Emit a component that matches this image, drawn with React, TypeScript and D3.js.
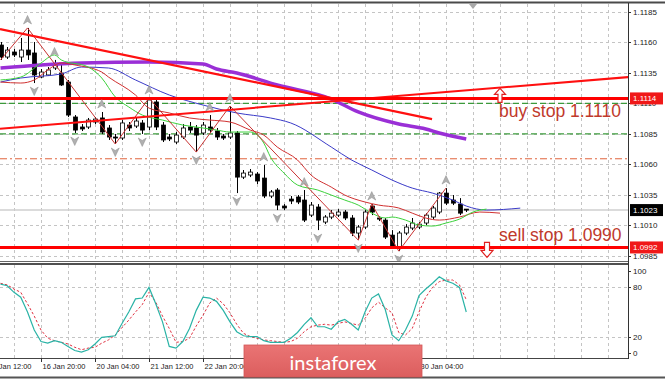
import React from 'react';
import * as d3 from 'd3';

const W = 665;
const H = 379;

// OHLC per H4 bar (open, high, low, close)
const candles: [number, number, number, number][] = [
  [1.11577, 1.11602, 1.11455, 1.11479],
  [1.11479, 1.11561, 1.11463, 1.11536],
  [1.1152, 1.11545, 1.11479, 1.11496],
  [1.11479, 1.11635, 1.11438, 1.11536],
  [1.11536, 1.11717, 1.11455, 1.11496],
  [1.11512, 1.11602, 1.11266, 1.11332],
  [1.11315, 1.11381, 1.11307, 1.11356],
  [1.11332, 1.11397, 1.11324, 1.11373],
  [1.11389, 1.11455, 1.11373, 1.11422],
  [1.11348, 1.11414, 1.11242, 1.1125],
  [1.11274, 1.11291, 1.10988, 1.11004],
  [1.10988, 1.11004, 1.10857, 1.10881],
  [1.10906, 1.1093, 1.10873, 1.1089],
  [1.10906, 1.1098, 1.1089, 1.10963],
  [1.10947, 1.10988, 1.1093, 1.10971],
  [1.1098, 1.11029, 1.10849, 1.10865],
  [1.10898, 1.10922, 1.108, 1.10824],
  [1.10824, 1.10849, 1.10767, 1.10816],
  [1.10816, 1.10963, 1.108, 1.10939],
  [1.10922, 1.10947, 1.10873, 1.10898],
  [1.10914, 1.1098, 1.10898, 1.10955],
  [1.10939, 1.10963, 1.10849, 1.10881],
  [1.10906, 1.11143, 1.10881, 1.11127],
  [1.11111, 1.11127, 1.10881, 1.10906],
  [1.10922, 1.10947, 1.10783, 1.108],
  [1.10824, 1.10849, 1.10791, 1.10808],
  [1.10783, 1.10865, 1.10767, 1.1084],
  [1.10824, 1.1093, 1.10808, 1.10898],
  [1.10906, 1.10947, 1.10857, 1.10881],
  [1.10898, 1.10922, 1.10701, 1.1084],
  [1.10857, 1.10947, 1.1084, 1.10922],
  [1.10906, 1.11004, 1.10857, 1.10881],
  [1.10873, 1.10898, 1.108, 1.10824],
  [1.10832, 1.10849, 1.108, 1.10816],
  [1.10824, 1.11078, 1.10808, 1.10857],
  [1.10857, 1.10873, 1.10365, 1.10496],
  [1.10496, 1.10554, 1.1048, 1.10529],
  [1.10513, 1.10562, 1.10496, 1.10537],
  [1.10521, 1.10537, 1.10439, 1.10464],
  [1.10488, 1.10595, 1.10324, 1.10341],
  [1.10341, 1.1039, 1.10324, 1.10374],
  [1.1039, 1.10406, 1.10226, 1.10267],
  [1.10259, 1.10275, 1.10226, 1.10243],
  [1.10316, 1.10341, 1.10275, 1.103],
  [1.10333, 1.10349, 1.10275, 1.10292],
  [1.10308, 1.1039, 1.10128, 1.10144],
  [1.10185, 1.10292, 1.10169, 1.10267],
  [1.10251, 1.10275, 1.10062, 1.10144],
  [1.10128, 1.10185, 1.10111, 1.10169],
  [1.10169, 1.10226, 1.10152, 1.10201],
  [1.10185, 1.10234, 1.10169, 1.1021],
  [1.1021, 1.10226, 1.10144, 1.10161],
  [1.10161, 1.10185, 1.10013, 1.10038],
  [1.10038, 1.10103, 1.0998, 1.10087],
  [1.10087, 1.10226, 1.1007, 1.1021],
  [1.10259, 1.10275, 1.10185, 1.1021],
  [1.10161, 1.10177, 1.10136, 1.10152],
  [1.10144, 1.10161, 1.09989, 1.10005],
  [1.10021, 1.10062, 1.09907, 1.09915],
  [1.09923, 1.10054, 1.0989, 1.10038],
  [1.10038, 1.10111, 1.10021, 1.10087],
  [1.10079, 1.10161, 1.10062, 1.1012],
  [1.10087, 1.10128, 1.1007, 1.10111],
  [1.1012, 1.10201, 1.10103, 1.10185],
  [1.10169, 1.10259, 1.10152, 1.10243],
  [1.1021, 1.10374, 1.10193, 1.10365],
  [1.10365, 1.10406, 1.10267, 1.10283],
  [1.10308, 1.10349, 1.10267, 1.10283],
  [1.10275, 1.10324, 1.10185, 1.10201],
  [1.10234, 1.10234, 1.1021, 1.10226],
];

const priceTicks = [1.0985, 1.101, 1.1035, 1.106, 1.1085, 1.111, 1.1135, 1.116, 1.1185];
const timeTickBars = [-2, 6, 14, 22, 30, 38, 46, 54, 62];
const timeLabels = [
  '15 Jan 12:00', '16 Jan 20:00', '20 Jan 04:00', '21 Jan 12:00', '22 Jan 20:00',
  '24 Jan 04:00', '27 Jan 12:00', '28 Jan 20:00', '30 Jan 04:00',
];

// Alligator lines [bar, price]
const jaw: [number, number][] = [
  [0, 1.11274], [3, 1.11307], [9, 1.1134], [12, 1.11397], [16, 1.11389], [20, 1.11291],
  [25, 1.11168], [30, 1.11086], [35, 1.11021], [40, 1.1098], [43, 1.10939], [49, 1.10742],
  [52, 1.10636], [55, 1.10554], [58, 1.10472], [61, 1.10406], [64, 1.10365], [67, 1.10308],
  [69, 1.10259], [72, 1.10226], [77, 1.10242],
];
const teeth: [number, number][] = [
  [0, 1.11274], [3, 1.11266], [5, 1.11291], [7, 1.11373], [9, 1.1143], [11, 1.11414],
  [15, 1.11356], [16, 1.11315], [20, 1.11168], [22, 1.11061], [25, 1.11021], [28, 1.1098],
  [31, 1.10963], [34, 1.10947], [37, 1.10881], [39, 1.1084], [41, 1.10742], [44, 1.10636],
  [46, 1.10513], [49, 1.10414], [51, 1.10349], [54, 1.10292], [56, 1.10267], [59, 1.10243],
  [61, 1.10201], [63, 1.10161], [65, 1.10144], [68, 1.10169], [71, 1.1021], [74, 1.10201],
];
const lips: [number, number][] = [
  [0, 1.11291], [3, 1.11315], [6, 1.1143], [8, 1.11496], [9, 1.11455], [13, 1.11397],
  [15, 1.11307], [17, 1.11152], [19, 1.1107], [21, 1.11004], [24, 1.10963], [27, 1.10922],
  [30, 1.10898], [32, 1.10881], [34, 1.10865], [37, 1.10865], [39, 1.10775], [40, 1.1066],
  [42, 1.10529], [44, 1.10431], [47, 1.1039], [49, 1.10349], [51, 1.10308], [53, 1.10267],
  [55, 1.10201], [57, 1.10161], [58, 1.10169], [60, 1.10144], [62, 1.10103], [64, 1.10095],
  [66, 1.1012], [68, 1.10152], [70, 1.1021], [72, 1.10234],
];
const slowMA: [number, number][] = [
  [0, 1.11389], [6, 1.11414], [12, 1.1143], [22, 1.11438], [30, 1.11422], [32, 1.11381],
  [35, 1.11348], [41, 1.1125], [49, 1.11135], [53, 1.11029], [59, 1.1093], [63, 1.1089],
  [65, 1.10857], [69, 1.10808],
];

const zigzagBars = [0, 4, 17, 22, 29, 34, 53, 55, 59, 66];
const fractalUp = [4, 8, 15, 22, 31, 34, 39, 45, 55, 66];
const fractalDown = [5, 11, 17, 21, 29, 35, 41, 47, 53, 59];

const trendDown: [number, number][] = [[-0.074, 1.11708], [63.93, 1.10971]];
const trendUp: [number, number][] = [[-0.074, 1.10892], [93.1, 1.11315]];

const redLevels = [1.1114, 1.0992];
const greenLevels = [1.111, 1.1085];
const dashDotLevel = 1.10646;
const bidPrice = 1.10226;

const stochMain = [
  84, 82, 74, 68, 50, 28, 14, 12, 15, 13, 8, 3, 1, 4, 11, 19, 20, 21, 36, 50,
  66, 67, 80, 60, 38, 8, 6, 14, 30, 52, 68, 67, 63, 52, 38, 26, 21, 20, 20, 15,
  13, 13, 13, 18, 25, 35, 43, 32, 32, 29, 38, 41, 35, 28, 50, 67, 72, 53, 22, 15,
  28, 45, 70, 78, 85, 93, 88, 85, 80, 50,
];
const stochSignal = [
  85, 83, 78, 74, 60, 45, 28, 18, 15, 13, 11, 7, 4, 6, 7, 12, 16, 22, 31, 40,
  50, 59, 74, 62, 45, 30, 13, 14, 18, 33, 46, 61, 67, 60, 49, 35, 24, 20, 18, 16,
  15, 14, 13, 14, 18, 26, 32, 34, 35, 34, 36, 38, 36, 34, 42, 55, 62, 55, 49, 25,
  22, 30, 50, 68, 80, 87, 89, 89, 83, 65,
];
const stochTicks = [100, 80, 20, 0];

const PR = 628; // plot right
const MT = 4;
const MB = 261;
const ST = 265;
const SB = 358;

export default function App() {
  const x = d3.scaleLinear().domain([0, 69]).range([0.5, 466.25]);
  const y = d3.scaleLinear().domain([1.0985, 1.1185]).range([256, 11.7]);
  const ys = d3.scaleLinear().domain([0, 100]).range([353, 271]);

  const pline = d3
    .line<[number, number]>()
    .x((d) => x(d[0]))
    .y((d) => y(d[1]))
    .curve(d3.curveMonotoneX);
  const straight = d3
    .line<[number, number]>()
    .x((d) => x(d[0]))
    .y((d) => y(d[1]));
  const sline = d3
    .line<number>()
    .x((_, i) => x(i))
    .y((d) => ys(d));

  const gridBars = d3.range(2, 91, 4);

  const zz: [number, number][] = zigzagBars.map((b, i) => [
    b,
    i % 2 === 0 ? candles[b][2] : candles[b][1],
  ]);

  const upArrow = (cx: number, cy: number) =>
    `M${cx},${cy - 4.5}L${cx + 4},${cy + 4}L${cx},${cy + 1.5}L${cx - 4},${cy + 4}Z`;
  const downArrow = (cx: number, cy: number) =>
    `M${cx},${cy + 4.5}L${cx + 4},${cy - 4}L${cx},${cy - 1.5}L${cx - 4},${cy - 4}Z`;

  const axisFont = "'Liberation Sans', Arial, sans-serif";

  const yBuy = y(1.1114);
  const ySell = y(1.0992);

  return (
    <svg
      width={W}
      height={H}
      style={{ position: 'absolute', left: 0, top: 0, background: '#fff' }}
      fontFamily={axisFont}
    >
      <defs>
        <clipPath id="mainClip">
          <rect x={0} y={MT} width={PR} height={MB - MT} />
        </clipPath>
        <clipPath id="subClip">
          <rect x={0} y={ST} width={PR} height={SB - ST} />
        </clipPath>
        <linearGradient id="logoGrad" x1="0" y1="0" x2="0" y2="1">
          <stop offset="0" stopColor="#ea7474" />
          <stop offset="1" stopColor="#dc5e5e" />
        </linearGradient>
      </defs>
      <rect x={0} y={0} width={W} height={H} fill="#fff" />

      {/* grid */}
      <g stroke="#c4c4c4" strokeWidth={1} strokeDasharray="3,3">
        {gridBars.map((b) => (
          <g key={b}>
            <line x1={Math.round(x(b)) + 0.5} x2={Math.round(x(b)) + 0.5} y1={MT} y2={MB} />
            <line x1={Math.round(x(b)) + 0.5} x2={Math.round(x(b)) + 0.5} y1={ST} y2={SB} />
          </g>
        ))}
        {priceTicks.map((p) => (
          <line key={p} x1={0} x2={PR} y1={Math.round(y(p)) + 0.5} y2={Math.round(y(p)) + 0.5} />
        ))}
        {[80, 20].map((v) => (
          <line key={v} x1={0} x2={PR} y1={Math.round(ys(v)) + 0.5} y2={Math.round(ys(v)) + 0.5} />
        ))}
      </g>

      <g clipPath="url(#mainClip)">
        {/* level lines */}
        {greenLevels.map((p) => (
          <line key={p} x1={0} x2={PR} y1={y(p)} y2={y(p)} stroke="#3c9a3c" strokeWidth={1.2} strokeDasharray="6,3" />
        ))}
        <line x1={0} x2={PR} y1={y(dashDotLevel)} y2={y(dashDotLevel)} stroke="#e0643c" strokeWidth={1} strokeDasharray="7,3,2,3" />
        <line x1={0} x2={PR} y1={y(bidPrice)} y2={y(bidPrice)} stroke="#cfcfcf" strokeWidth={1.5} />

        {/* candles */}
        {candles.map((c, i) => {
          const [o, h, l, cl] = c;
          const cx = Math.round(x(i)) + 0.5;
          const top = y(Math.max(o, cl));
          const bot = y(Math.min(o, cl));
          const bull = cl >= o;
          return (
            <g key={i}>
              <line x1={cx} x2={cx} y1={y(h)} y2={y(l)} stroke="#000" strokeWidth={1} />
              <rect
                x={cx - 2}
                y={top}
                width={4}
                height={Math.max(bot - top, 1)}
                fill={bull ? '#fff' : '#000'}
                stroke="#000"
                strokeWidth={0.8}
              />
            </g>
          );
        })}

        {/* slow MA */}
        <path d={pline(slowMA) || ''} fill="none" stroke="#9a2fd6" strokeWidth={3.5} />
        {/* Alligator */}
        <path d={pline(jaw) || ''} fill="none" stroke="#3a3ac8" strokeWidth={1} />
        <path d={pline(teeth) || ''} fill="none" stroke="#d03030" strokeWidth={1} />
        <path d={pline(lips) || ''} fill="none" stroke="#3cd23c" strokeWidth={1} />
        {/* zigzag */}
        <path d={straight(zz) || ''} fill="none" stroke="#c83232" strokeWidth={1} />

        {/* trend lines */}
        <path d={straight(trendDown) || ''} fill="none" stroke="#ff1010" strokeWidth={2.2} />
        <path d={straight(trendUp) || ''} fill="none" stroke="#ff1010" strokeWidth={2} />
        {redLevels.map((p) => (
          <line key={p} x1={0} x2={PR} y1={y(p)} y2={y(p)} stroke="#ff0000" strokeWidth={3} />
        ))}

        {/* fractals */}
        {fractalUp.map((b) => (
          <path key={'u' + b} d={upArrow(x(b), y(candles[b][1]) - 8)} fill="#b0b0b0" stroke="#8c8c8c" strokeWidth={0.5} />
        ))}
        {fractalDown.map((b) => (
          <path key={'d' + b} d={downArrow(x(b), y(candles[b][2]) + 8)} fill="#b0b0b0" stroke="#8c8c8c" strokeWidth={0.5} />
        ))}

        {/* annotations */}
        <path
          d={`M500,${yBuy - 10}L505.5,${yBuy - 4}L502,${yBuy - 4}L502,${yBuy + 4}L498,${yBuy + 4}L498,${yBuy - 4}L494.5,${yBuy - 4}Z`}
          fill="#fff"
          stroke="#e02020"
          strokeWidth={1.2}
        />
        <path
          d={`M484.5,${ySell - 5}L489.5,${ySell - 5}L489.5,${ySell + 3}L493,${ySell + 3}L487,${ySell + 10}L481,${ySell + 3}L484.5,${ySell + 3}Z`}
          fill="#fff"
          stroke="#e02020"
          strokeWidth={1.2}
        />
        <text x={499} y={117} fontSize={17.5} fill="#c0392b">buy stop 1.1110</text>
        <text x={499} y={241} fontSize={17.5} fill="#c0392b">sell stop 1.0990</text>
      </g>

      {/* chart shift marker */}
      <path d="M469,4L477,4L473,9Z" fill="#a8a8a8" />

      {/* stochastic */}
      <g clipPath="url(#subClip)">
        <path d={sline(stochSignal) || ''} fill="none" stroke="#e03040" strokeWidth={1} strokeDasharray="2.5,2" />
        <path d={sline(stochMain) || ''} fill="none" stroke="#2ab3a6" strokeWidth={1.2} />
      </g>

      {/* frames */}
      <line x1={0} x2={W} y1={2.5} y2={2.5} stroke="#4a4a4a" strokeWidth={2} />
      <line x1={0} x2={PR} y1={MB + 0.5} y2={MB + 0.5} stroke="#666" strokeWidth={1} />
      <line x1={0} x2={PR + 1} y1={264} y2={264} stroke="#505050" strokeWidth={2} />
      <line x1={0} x2={PR} y1={SB + 0.5} y2={SB + 0.5} stroke="#444" strokeWidth={1} />
      <line x1={PR + 0.5} x2={PR + 0.5} y1={3} y2={SB + 1} stroke="#333" strokeWidth={1} />
      <line x1={0} x2={W} y1={377.5} y2={377.5} stroke="#555" strokeWidth={2} />

      {/* price axis */}
      <g fontSize={8} fill="#222">
        {priceTicks.map((p) => (
          <g key={p}>
            <line x1={PR} x2={PR + 3} y1={Math.round(y(p)) + 0.5} y2={Math.round(y(p)) + 0.5} stroke="#333" />
            <text x={633} y={y(p) + 3}>{p.toFixed(4)}</text>
          </g>
        ))}
        {stochTicks.map((v) => (
          <g key={v}>
            <line x1={PR} x2={PR + 3} y1={Math.round(ys(v)) + 0.5} y2={Math.round(ys(v)) + 0.5} stroke="#333" />
            <text x={633} y={ys(v) + 3}>{v}</text>
          </g>
        ))}
      </g>
      {/* price tags */}
      {[
        { p: 1.1114, bg: '#f01818' },
        { p: bidPrice, bg: '#000' },
        { p: 1.0992, bg: '#f01818' },
      ].map((t) => (
        <g key={t.p}>
          <rect x={630} y={y(t.p) - 6} width={33} height={12} fill={t.bg} />
          <text x={633} y={y(t.p) + 3} fontSize={8} fill="#fff">
            {t.p.toFixed(4)}
          </text>
        </g>
      ))}

      {/* time axis */}
      <g fontSize={8} fill="#222">
        {timeTickBars.map((b, i) => (
          <g key={b}>
            <line x1={Math.round(x(b)) + 0.5} x2={Math.round(x(b)) + 0.5} y1={SB} y2={SB + 4} stroke="#333" />
            <text x={x(b) + 1.5} y={369} textLength={43} lengthAdjust="spacingAndGlyphs">
              {timeLabels[i]}
            </text>
          </g>
        ))}
      </g>

      {/* logo */}
      <rect x={244} y={345} width={178} height={32} fill="url(#logoGrad)" stroke="#d25656" strokeWidth={0.8} />
      <text x={333} y={370} textAnchor="middle" fontSize={20} fill="#fff" fontFamily="Lato, 'Open Sans', sans-serif">
        instaforex
      </text>
    </svg>
  );
}
